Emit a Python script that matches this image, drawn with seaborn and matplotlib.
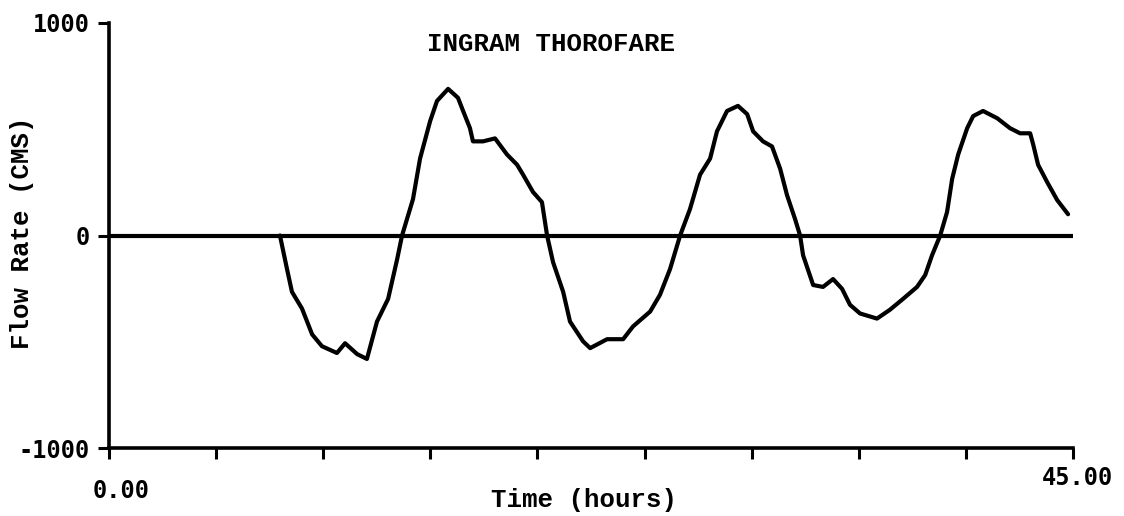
import matplotlib
matplotlib.use("Agg")
import matplotlib.pyplot as plt
from matplotlib.transforms import ScaledTranslation
import seaborn as sns
import pandas as pd

# ---- data ----
time_hours = [
    7.98, 8.31, 8.54, 9.01, 9.48, 9.94, 10.64, 11.02, 11.58, 12.04, 12.51, 13.03, 13.45,
    13.68, 14.19, 14.52, 14.99, 15.31, 15.83, 16.29, 16.53, 16.85, 16.99, 17.46, 18.02,
    18.58, 19.05, 19.33, 19.79, 20.21, 20.45, 20.73, 21.20, 21.52, 22.13, 22.46, 23.25,
    24.00, 24.46, 25.26, 25.72, 26.19, 26.66, 27.12, 27.59, 28.06, 28.38, 28.85, 29.36,
    29.79, 30.07, 30.53, 30.95, 31.33, 31.65, 32.03, 32.26, 32.40, 32.87, 33.33, 33.80,
    34.22, 34.59, 35.06, 35.85, 36.46, 37.07, 37.72, 38.10, 38.42, 38.80, 39.12, 39.36,
    39.64, 40.06, 40.34, 40.80, 41.46, 42.06, 42.53, 43.00, 43.14, 43.37, 43.79, 44.26,
    44.77,
]
flow_cms = [
    0, -158, -265, -344, -465, -521, -553, -507, -558, -581, -405, -298, -112,
    0, 171, 362, 538, 633, 690, 648, 586, 505, 443, 443, 457,
    381, 333, 286, 205, 157, 0, -126, -265, -405, -498, -530, -488,
    -488, -428, -358, -279, -158, 0, 124, 286, 362, 490, 586, 610,
    571, 490, 443, 419, 314, 190, 76, 0, -93, -233, -242, -205,
    -251, -326, -367, -391, -349, -298, -242, -186, -93, 0, 110, 267,
    381, 505, 562, 586, 552, 505, 481, 481, 429, 333, 252, 167,
    100,
]
x_ticks = [0, 5, 10, 15, 20, 25, 30, 35, 40, 45]
x_tick_labels = ["0.00", "", "", "", "", "", "", "", "", "45.00"]
y_ticks = [-1000, 0, 1000]
y_tick_labels = ["-1000", "0", "1000"]
title = "INGRAM THOROFARE"
x_label = "Time (hours)"
y_label = "Flow Rate (CMS)"

df = pd.DataFrame({"Time": time_hours, "Flow": flow_cms})

sns.set_style("ticks")
plt.rcParams.update({
    "text.color": "black",
    "axes.labelcolor": "black",
    "xtick.color": "black",
    "ytick.color": "black",
    "axes.edgecolor": "black",
})
W, H = 1124, 516
fig = plt.figure(figsize=(W / 100, H / 100), dpi=100)
ax = fig.add_axes([109 / W, 1 - 448 / H, (1073 - 109) / W, (448 - 23) / H])

sns.lineplot(data=df, x="Time", y="Flow", ax=ax, color="black", linewidth=3.0,
             sort=False, estimator=None, solid_joinstyle="round", solid_capstyle="round")
ax.axhline(0, color="black", linewidth=3.0, zorder=1)

ax.set_xlim(0, 45)
ax.set_ylim(-1000, 1000)
for s in ("top", "right"):
    ax.spines[s].set_visible(False)
for s in ("left", "bottom"):
    ax.spines[s].set_linewidth(2.6)
    ax.spines[s].set_color("black")

tick_font = dict(family="DejaVu Sans Mono", weight="bold", size=17)
text_font = dict(family="Liberation Mono", weight="bold")

ax.set_xticks(x_ticks)
ax.set_xticklabels(x_tick_labels, fontdict=tick_font)
ax.set_yticks(y_ticks)
ax.set_yticklabels(y_tick_labels, fontdict=tick_font)
ax.tick_params(axis="both", direction="out", length=8, width=2.2, color="black",
               labelcolor="black")
ax.tick_params(axis="x", pad=12)
ax.tick_params(axis="y", pad=6)

# nudge the two x tick labels like in the original
xl = ax.get_xticklabels()
xl[0].set_transform(xl[0].get_transform() + ScaledTranslation(12 / 100, -3 / 100, fig.dpi_scale_trans))
xl[-1].set_transform(xl[-1].get_transform() + ScaledTranslation(4 / 100, 10 / 100, fig.dpi_scale_trans))

ax.text((551 - 109) / 964, (448 - 44) / 425, title, transform=ax.transAxes,
        ha="center", va="center", fontsize=18.5, color="black", **text_font)

ax.set_xlabel(x_label, fontsize=18.5, color="black", **text_font)
ax.xaxis.label.set_va("center")
ax.xaxis.set_label_coords((584 - 109) / 964, (448 - 500) / 425)

ax.set_ylabel(y_label, fontsize=18.5, color="black", **text_font)
ax.yaxis.label.set_va("center")
ax.yaxis.set_label_coords((22 - 109) / 964, (448 - 233) / 425)

ax.grid(False)
fig.savefig("out.png", dpi=100, facecolor="white")
